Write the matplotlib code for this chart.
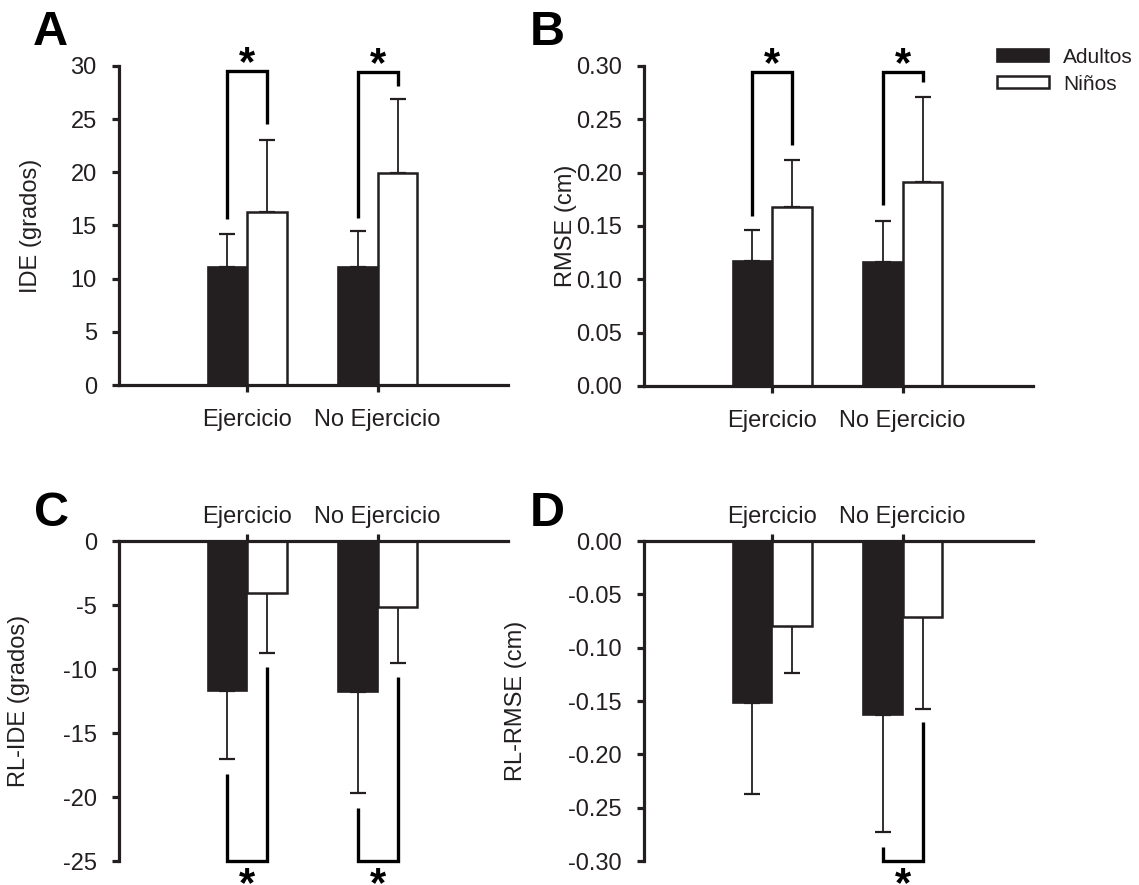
import matplotlib
matplotlib.use('Agg')
import matplotlib.pyplot as plt
from matplotlib.patches import Patch

plt.rcParams['font.family'] = ['Liberation Sans', 'DejaVu Sans']
plt.rcParams['axes.unicode_minus'] = False

INK = '#231f20'

# condiciones y grupos
condiciones = ['Ejercicio', 'No Ejercicio']
grupos = ['Adultos', 'Niños']

# A: IDE (grados)
ide_adultos = [11.07, 11.07]
ide_adultos_sd = [3.10, 3.41]
ide_ninos = [16.27, 19.90]
ide_ninos_sd = [6.77, 6.97]

# B: RMSE (cm)
rmse_adultos = [0.117, 0.116]
rmse_adultos_sd = [0.029, 0.039]
rmse_ninos = [0.1675, 0.191]
rmse_ninos_sd = [0.044, 0.080]

# C: RL-IDE (grados)
rlide_adultos = [-11.73, -11.78]
rlide_adultos_sd = [5.29, 7.92]
rlide_ninos = [-4.09, -5.14]
rlide_ninos_sd = [4.64, 4.38]

# D: RL-RMSE (cm)
rlrmse_adultos = [-0.152, -0.163]
rlrmse_adultos_sd = [0.085, 0.110]
rlrmse_ninos = [-0.080, -0.0716]
rlrmse_ninos_sd = [0.0435, 0.0855]

# corchetes de significancia: (condicion, extremo adultos, extremo ninos, nivel)
sig_a = [(0, 15.6, 24.5, 29.5), (1, 15.7, 28.1, 29.4)]
sig_b = [(0, 0.159, 0.226, 0.294), (1, 0.170, 0.285, 0.294)]
sig_c = [(0, -18.17, -9.88, -25.0), (1, -20.86, -10.66, -25.0)]
sig_d = [(1, -0.287, -0.170, -0.30)]

W = 1139
H = 885
FS = 17
fig = plt.figure(figsize=(W / 100, H / 100), dpi=100)


def px_axes(left, top, right, bottom):
    return fig.add_axes([left / W, 1 - bottom / H, (right - left) / W, (bottom - top) / H])


def draw_panel(ax, adultos, adultos_sd, ninos, ninos_sd, ylim, yticks, fmt,
               ylabel, label_x, sig, negativo=False):
    x = [1, 2]
    bw = 0.305
    ax.bar(x, adultos, width=-bw, align='edge', color=INK, edgecolor=INK,
           linewidth=1.2, zorder=2)
    ax.bar(x, ninos, width=bw, align='edge', color='white', edgecolor=INK,
           linewidth=1.8, zorder=2)
    for i in range(2):
        for xc, m, s in [(x[i] - bw / 2, adultos[i], adultos_sd[i]),
                         (x[i] + bw / 2, ninos[i], ninos_sd[i])]:
            err = [[s], [0]] if negativo else [[0], [s]]
            ax.errorbar([xc], [m], yerr=err, fmt='none', ecolor=INK,
                        elinewidth=1.3, capsize=6, capthick=1.6, zorder=1)

    for i, ya, yn, nivel in sig:
        xa = x[i] - bw / 2
        xn = x[i] + bw / 2
        ax.plot([xa, xa, xn, xn], [ya, nivel, nivel, yn], color='black',
                linewidth=2.4, solid_joinstyle='miter', solid_capstyle='butt',
                clip_on=False, zorder=3)
        dy = -17 if negativo else 5
        ax.annotate('*', xy=(x[i], nivel), xytext=(0, dy), textcoords='offset points',
                    ha='center', va='center', fontsize=30, fontweight='bold',
                    color='black', annotation_clip=False)

    ax.set_xlim(0.015, 3.0)
    ax.set_ylim(*ylim)
    ax.set_yticks(yticks)
    ax.set_yticklabels([fmt.format(v) for v in yticks])
    ax.set_xticks(x)
    ax.set_xticklabels(condiciones)
    ax.spines['right'].set_visible(False)
    if negativo:
        ax.spines['bottom'].set_visible(False)
        ax.xaxis.set_ticks_position('top')
        xpad = 4
    else:
        ax.spines['top'].set_visible(False)
        xpad = 12
    for s in ['left', 'top', 'bottom']:
        ax.spines[s].set_linewidth(2.3)
        ax.spines[s].set_color(INK)
    ax.tick_params(axis='y', direction='out', length=5, width=2.3, color=INK,
                   labelsize=FS, labelcolor=INK, pad=11)
    ax.tick_params(axis='x', direction='out', length=5, width=2.3, color=INK,
                   labelsize=FS, labelcolor=INK, pad=xpad)
    ax.set_ylabel(ylabel, fontsize=FS, color=INK)
    ax.yaxis.set_label_coords(label_x, 0.5)
    ax.set_facecolor('none')


ax_a = px_axes(119, 66, 508, 385)
ax_b = px_axes(644, 66, 1033, 386)
ax_c = px_axes(119, 541, 508, 861)
ax_d = px_axes(644, 541, 1033, 861)

draw_panel(ax_a, ide_adultos, ide_adultos_sd, ide_ninos, ide_ninos_sd,
           (0, 30), [0, 5, 10, 15, 20, 25, 30], '{:.0f}', 'IDE (grados)', -0.198, sig_a)
draw_panel(ax_b, rmse_adultos, rmse_adultos_sd, rmse_ninos, rmse_ninos_sd,
           (0, 0.30), [0, 0.05, 0.10, 0.15, 0.20, 0.25, 0.30], '{:.2f}', 'RMSE (cm)',
           -0.173, sig_b)
draw_panel(ax_c, rlide_adultos, rlide_adultos_sd, rlide_ninos, rlide_ninos_sd,
           (-25, 0), [-25, -20, -15, -10, -5, 0], '{:.0f}', 'RL-IDE (grados)', -0.23,
           sig_c, negativo=True)
draw_panel(ax_d, rlrmse_adultos, rlrmse_adultos_sd, rlrmse_ninos, rlrmse_ninos_sd,
           (-0.30, 0), [-0.30, -0.25, -0.20, -0.15, -0.10, -0.05, 0.0], '{:.2f}',
           'RL-RMSE (cm)', -0.302, sig_d, negativo=True)

# letras de panel
for letra, lx, ly in [('A', 33, 10), ('B', 530, 10), ('C', 34, 491), ('D', 530, 491)]:
    fig.text(lx / W, 1 - ly / H, letra, fontsize=35, fontweight='bold',
             color='black', ha='left', va='top')

handles = [Patch(facecolor=INK, edgecolor=INK, linewidth=1.2),
           Patch(facecolor='white', edgecolor=INK, linewidth=1.8)]
fig.legend(handles, grupos, loc='upper left', bbox_to_anchor=(997 / W, 1 - 48 / H),
           frameon=False, fontsize=15, handlelength=2.5, handleheight=0.53,
           handletextpad=0.67, labelspacing=0.37, borderpad=0, borderaxespad=0,
           labelcolor=INK)

fig.savefig('out.png', dpi=100)
